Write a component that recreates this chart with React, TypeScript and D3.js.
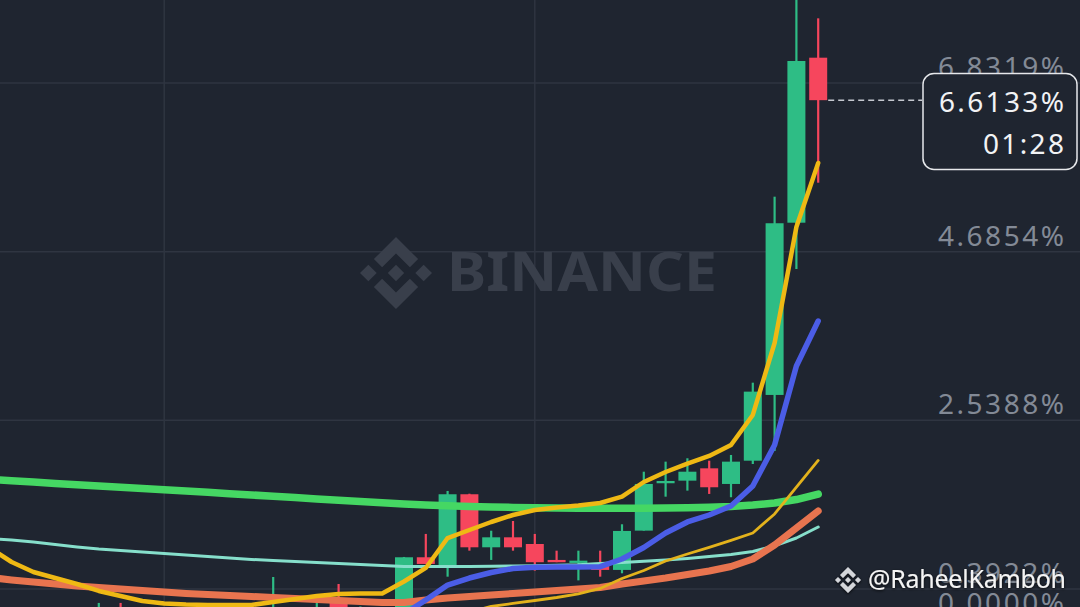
import React from 'react';
import * as d3 from 'd3';

const W = 1080;
const H = 607;

// Candle data (percent change), index 0..38
const candleOpen = [0.05, 0.08, 0.03, 0.06, 0.02, 0.07, 0.12, 0.05, 0.08, 0.04, 0.07, 0.03, 0.06, 0.10, 0.15, 0.05, 0.215, 0.05, 0.10,
  0.12, 0.796, 0.677, 1.598, 0.923, 1.050, 0.965, 0.762, 0.724, 0.685, 0.635, 1.135, 1.738, 1.771, 1.928, 1.729, 2.025, 2.862, 5.054, 7.154];
const candleHigh = [0.12, 0.13, 0.10, 0.12, 0.10, 0.215, 0.215, 0.10, 0.12, 0.10, 0.12, 0.10, 0.13, 0.545, 0.16, 0.26, 0.456, 0.17, 0.14,
  0.80, 1.093, 1.640, 1.605, 1.134, 1.258, 1.093, 0.880, 0.880, 0.880, 1.216, 1.885, 2.013, 2.056, 2.025, 2.098, 3.018, 5.385, 8.0, 7.655];
const candleLow = [-0.05, 0.0, -0.05, 0.0, -0.04, 0.0, 0.02, -0.02, 0.0, -0.03, 0.0, -0.04, 0.0, 0.02, 0.02, 0.0, -0.05, 0.0, 0.0,
  0.05, 0.711, 0.549, 0.880, 0.762, 0.880, 0.626, 0.733, 0.502, 0.549, 0.592, 1.135, 1.567, 1.644, 1.602, 1.560, 1.983, 2.149, 4.465, 5.563];
const candleClose = [0.08, 0.03, 0.06, 0.02, 0.07, 0.12, 0.05, 0.08, 0.04, 0.07, 0.03, 0.06, 0.10, 0.15, 0.05, 0.14, 0.05, 0.10, 0.12,
  0.796, 0.711, 1.598, 0.923, 1.050, 0.923, 0.733, 0.733, 0.753, 0.635, 1.131, 1.729, 1.767, 1.885, 1.687, 2.013, 2.904, 5.047, 7.112, 6.6133];

// Moving-average lines
const maGreen = [1.786, 1.769, 1.753, 1.736, 1.720, 1.703, 1.688, 1.671, 1.655, 1.638, 1.622, 1.605, 1.589, 1.572, 1.556, 1.539, 1.523, 1.506, 1.491,
  1.474, 1.461, 1.451, 1.443, 1.436, 1.431, 1.427, 1.423, 1.421, 1.419, 1.419, 1.421, 1.423, 1.427, 1.433, 1.443, 1.461, 1.487, 1.531, 1.601];
const maTeal = [1.035, 1.016, 0.990, 0.959, 0.927, 0.901, 0.882, 0.863, 0.844, 0.825, 0.806, 0.787, 0.768, 0.755, 0.742, 0.730, 0.717, 0.704, 0.691,
  0.679, 0.679, 0.679, 0.679, 0.682, 0.685, 0.687, 0.694, 0.702, 0.717, 0.730, 0.745, 0.761, 0.781, 0.806, 0.831, 0.870, 0.940, 1.041, 1.181];
const maSalmon = [0.539, 0.507, 0.481, 0.456, 0.431, 0.411, 0.392, 0.373, 0.354, 0.335, 0.322, 0.310, 0.297, 0.284, 0.271, 0.259, 0.246, 0.233, 0.220,
  0.220, 0.252, 0.278, 0.297, 0.316, 0.335, 0.354, 0.373, 0.392, 0.411, 0.456, 0.494, 0.532, 0.577, 0.621, 0.679, 0.774, 0.952, 1.169, 1.385];
const maYellow = [0.914, 0.736, 0.609, 0.532, 0.456, 0.367, 0.303, 0.240, 0.208, 0.195, 0.189, 0.189, 0.189, 0.227, 0.265, 0.303, 0.329, 0.335, 0.335,
  0.488, 0.660, 1.041, 1.143, 1.245, 1.334, 1.398, 1.430, 1.455, 1.487, 1.567, 1.754, 1.881, 1.989, 2.085, 2.225, 2.607, 3.523, 4.999, 5.814];
const maBlue: (number | null)[] = [null, null, null, null, null, null, null, null, null, null, null, null, null, null, null, null, null, null, null,
  0.074, 0.252, 0.443, 0.532, 0.602, 0.653, 0.668, 0.672, 0.672, 0.676, 0.774, 0.921, 1.105, 1.245, 1.334, 1.449, 1.703, 2.225, 3.230, 3.803];
const maThinYellow: (number | null)[] = [null, null, null, null, null, null, null, null, null, null, null, null, null, null, null, null, null, null, null, null,
  -0.028, 0.036, 0.100, 0.170, 0.208, 0.246, 0.284, 0.329, 0.399, 0.526, 0.628, 0.749, 0.838, 0.921, 1.010, 1.105, 1.347, 1.690, 2.028];

const axisTicks = [6.8319, 4.6854, 2.5388, 0.3922];
const axisLabels = ['6.8319%', '4.6854%', '2.5388%', '0.3922%'];
const zeroLabel = '0.0000%';
const zeroLabelValue = -0.0;
const gridCandleIndices = [8, 25];
const lastPrice = 6.6133;
const lastPriceLabel = '6.6133%';
const countdown = '01:28';

const BG = '#1f2530';
const GRID = '#2f3541';
const UP = '#2ebd85';
const DOWN = '#f6465d';
const AXIS_TEXT = '#838a96';

const logoPolys = [
  [[0.5, 0.0], [0.807, 0.307], [0.693, 0.421], [0.5, 0.228], [0.307, 0.421], [0.193, 0.307]],
  [[0.5, 1.0], [0.807, 0.693], [0.693, 0.579], [0.5, 0.772], [0.307, 0.579], [0.193, 0.693]],
  [[0.5, 0.386], [0.614, 0.5], [0.5, 0.614], [0.386, 0.5]],
  [[0.116, 0.384], [0.232, 0.5], [0.116, 0.616], [0.0, 0.5]],
  [[0.884, 0.384], [1.0, 0.5], [0.884, 0.616], [0.768, 0.5]],
];

function Logo({ x, y, size, fill }: { x: number; y: number; size: number; fill: string }) {
  return (
    <g transform={`translate(${x},${y})`} fill={fill}>
      {logoPolys.map((p, i) => (
        <polygon key={i} points={p.map(([a, b]) => `${a * size},${b * size}`).join(' ')} />
      ))}
    </g>
  );
}

export default function App() {
  const n = candleOpen.length;
  const x = d3.scaleLinear().domain([0, n - 1]).range([-10.2, 818.2]);
  const y = d3.scaleLinear().domain([0.3922, 6.8319]).range([589, 83]);
  const bodyW = 18;

  const line = d3
    .line<number | null>()
    .defined((d) => d != null)
    .x((_, i) => x(i))
    .y((d) => y(d as number));

  const lines = [
    { data: maTeal, color: '#86dfcb', w: 3 },
    { data: maSalmon, color: '#e8744f', w: 7 },
    { data: maGreen, color: '#45d763', w: 7.5 },
    { data: maThinYellow, color: '#e3b21c', w: 2.8 },
    { data: maBlue, color: '#4b5de6', w: 5.5 },
    { data: maYellow, color: '#efb914', w: 4.5 },
  ];

  const lastX = x(n - 1);
  const yLast = y(lastPrice);

  return (
    <svg width={W} height={H} style={{ position: 'absolute', left: 0, top: 0, display: 'block' }}>
      <defs>
        <filter id="shadow" x="-10%" y="-30%" width="120%" height="160%">
          <feDropShadow dx="0" dy="1" stdDeviation="1.5" floodColor="#000" floodOpacity="0.8" />
        </filter>
      </defs>
      <rect x={0} y={0} width={W} height={H} fill={BG} />
      {/* grid */}
      {axisTicks.map((t, i) => (
        <line key={'h' + i} x1={0} x2={W} y1={y(t)} y2={y(t)} stroke={GRID} strokeWidth={1.5} />
      ))}
      {gridCandleIndices.map((ci, i) => (
        <line key={'v' + i} x1={x(ci)} x2={x(ci)} y1={0} y2={H} stroke={GRID} strokeWidth={1.5} />
      ))}
      {/* watermark */}
      <Logo x={360} y={237} size={72} fill="#393f4b" />
      <text x={447} y={291} fontFamily="'Noto Sans', sans-serif" fontWeight={700} fontSize={53} fill="#393f4b" textLength={270} lengthAdjust="spacingAndGlyphs">
        BINANCE
      </text>
      {/* axis labels */}
      {axisTicks.map((t, i) => (
        <text key={'l' + i} x={938} y={y(t) - 6} fontFamily="'Noto Sans', sans-serif" fontSize={28} fill={AXIS_TEXT} textLength={126}>
          {axisLabels[i]}
        </text>
      ))}
      <text x={938} y={y(zeroLabelValue) - 6 > 613 ? 613 : 613} fontFamily="'Noto Sans', sans-serif" fontSize={28} fill={AXIS_TEXT} textLength={126}>
        {zeroLabel}
      </text>
      {/* candles */}
      {candleOpen.map((o, i) => {
        const c = candleClose[i];
        const up = c >= o;
        const col = up ? UP : DOWN;
        const cx = x(i);
        const top = y(Math.max(o, c));
        const bot = y(Math.min(o, c));
        return (
          <g key={'c' + i}>
            <line x1={cx} x2={cx} y1={y(candleHigh[i])} y2={y(candleLow[i])} stroke={col} strokeWidth={2.2} />
            <rect x={cx - bodyW / 2} y={top} width={bodyW} height={Math.max(bot - top, 2)} fill={col} />
          </g>
        );
      })}
      {/* MA lines */}
      {lines.map((l, i) => (
        <path key={'m' + i} d={line(l.data) || ''} fill="none" stroke={l.color} strokeWidth={l.w} strokeLinejoin="round" strokeLinecap="round" />
      ))}
      {/* last price line */}
      <line x1={lastX + 10} x2={922} y1={yLast} y2={yLast} stroke="#c4c8cf" strokeWidth={1.5} strokeDasharray="6 4" />
      <rect x={923} y={73.5} width={154} height={96} rx={11} fill={BG} stroke="#e6e8eb" strokeWidth={1.5} />
      <text x={1064} y={112} textAnchor="end" fontFamily="'Noto Sans', sans-serif" fontSize={28} fill="#f2f3f5" textLength={125}>
        {lastPriceLabel}
      </text>
      <text x={1064} y={154} textAnchor="end" fontFamily="'Noto Sans', sans-serif" fontSize={28} fill="#f2f3f5" textLength={81}>
        {countdown}
      </text>
      {/* user watermark */}
      <g filter="url(#shadow)">
        <Logo x={835} y={567} size={26} fill="#d4d6da" />
        <text x={868} y={588} fontFamily="'Noto Sans', sans-serif" fontSize={25} fill="#f4f4f4" textLength={198}>
          @RaheelKamboh
        </text>
      </g>
    </svg>
  );
}
